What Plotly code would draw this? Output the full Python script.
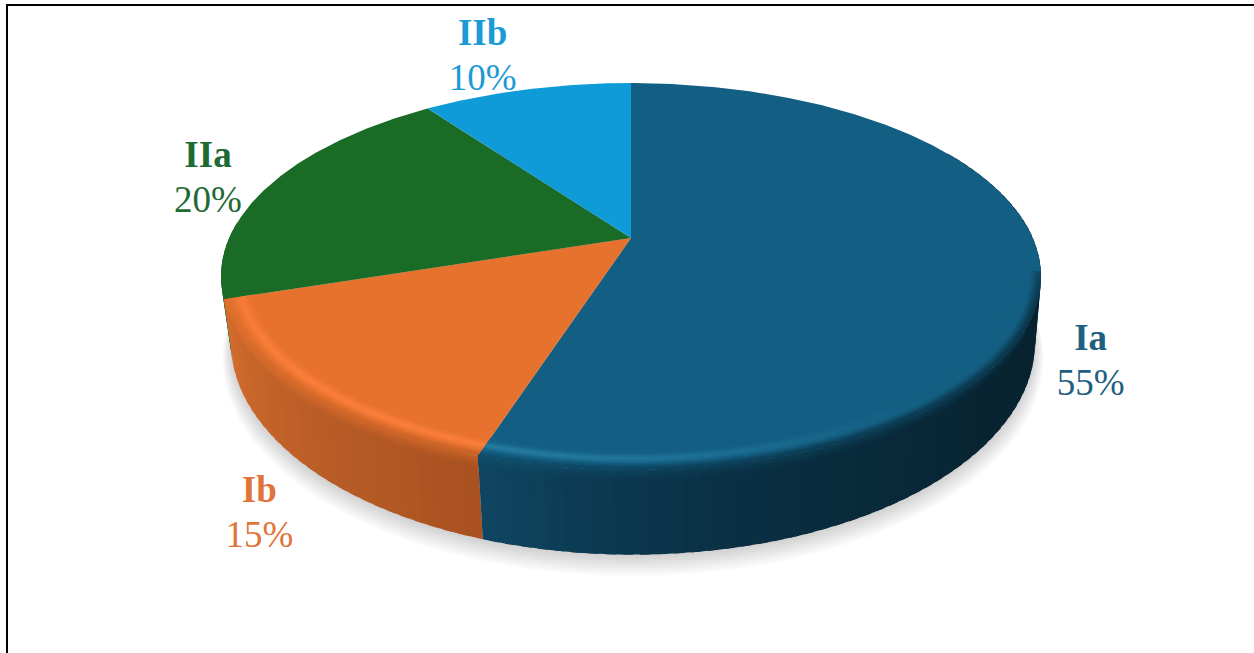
import math
import plotly.graph_objects as go

# ---- data -----------------------------------------------------------------
categories = ["Ia", "Ib", "IIa", "IIb"]
shares = [55, 15, 20, 10]

# ---- styles ---------------------------------------------------------------
top_colors = [(19, 95, 131), (231, 114, 46), (26, 107, 37), (15, 155, 215)]
label_colors = ["#1f5f82", "#e0743a", "#1d6a33", "#1b9ad6"]
highlight_colors = [(36, 122, 158), (250, 126, 58), None, None]
# wall colour stops: (clockwise angle from 12 o'clock, rgb)
wall_stops = [
    [(60, (7, 34, 46)), (100, (7, 34, 46)), (130, (8, 36, 50)), (150, (9, 42, 58)),
     (170, (10, 48, 68)), (185, (12, 58, 82)), (198, (15, 70, 98))],
    [(198, (168, 82, 32)), (220, (184, 92, 38)), (240, (200, 102, 42)), (252, (214, 110, 46))],
    [(252, (22, 98, 34)), (324, (22, 98, 34))],
]
label_offsets = [(50, 95), (41, 124), (63, -4), (44, -31)]
LABEL_GAP = 22.5

# ---- projection of the tilted disc ----------------------------------------
CX, CY, TOP_A, TOP_B = 631.0, 238.0, 185.8, 401.8
BOT_CX, BOT_CY, BOT_A, BOT_B = 633.0, 300.0, 204.0, 394.0
K = 0.199


def proj(t, r=1.0, z=0.0):
    a = math.radians(t)
    X, Y = r * math.sin(a), r * math.cos(a)
    s = 1 / (1 + K * Y)
    x0, y0 = CX + TOP_B * X * s, CY - TOP_A * Y * s
    x1, y1 = BOT_CX + BOT_B * X * s, BOT_CY - BOT_A * Y * s
    return x0 + (x1 - x0) * z, y0 + (y1 - y0) * z


def mix(a, b, f):
    return tuple(a[i] + (b[i] - a[i]) * f for i in range(3))


def smooth(e0, e1, v):
    u = max(0.0, min(1.0, (v - e0) / (e1 - e0)))
    return u * u * (3 - 2 * u)


def rgb(c):
    return "rgb(%d,%d,%d)" % tuple(round(v) for v in c)


def wall_color(i, t):
    stops = wall_stops[i]
    if t <= stops[0][0]:
        return stops[0][1]
    for (t0, c0), (t1, c1) in zip(stops, stops[1:]):
        if t <= t1:
            return mix(c0, c1, (t - t0) / (t1 - t0))
    return stops[-1][1]


fig = go.Figure()


def poly(pts, color):
    xs = [p[0] for p in pts] + [pts[0][0]]
    ys = [p[1] for p in pts] + [pts[0][1]]
    fig.add_trace(go.Scatter(
        x=xs, y=ys, mode="lines", fill="toself", fillcolor=color,
        line=dict(width=0), hoverinfo="skip", showlegend=False))


# slice boundaries from the values
total = sum(shares)
edges = [0.0]
for v in shares:
    edges.append(edges[-1] + 360.0 * v / total)

# soft shadow below the disc
for n in range(9):
    grow = 1.0 + 0.0025 * (8 - n)
    dy = 2 + 1.6 * (8 - n)
    pts = [(lambda p: (p[0], p[1] + dy))(proj(t, grow, 1.0)) for t in range(0, 360, 3)]
    fig.add_trace(go.Scatter(
        x=[p[0] for p in pts] + [pts[0][0]], y=[p[1] for p in pts] + [pts[0][1]],
        mode="lines", fill="toself", fillcolor="rgba(90,90,90,0.028)",
        line=dict(width=0), hoverinfo="skip", showlegend=False))

EDGE_AMT = {0: 0.7, 1: 0.55}
STEP = 2.0
OVER = 1.2


def edge_amount(i, t):
    return EDGE_AMT[i] * smooth(84, 112, t) if i == 0 else EDGE_AMT[i]


# side walls (green first so orange and blue overlap it)
wall_spans = {2: (edges[2], 275.0), 1: (edges[1], edges[2]), 0: (60.0, edges[1])}
ZS = [0.0, 0.02, 0.04, 0.06, 0.08, 0.10, 0.13, 1.0]
for i in (2, 1, 0):
    t0, t1 = wall_spans[i]
    n = max(1, int(round((t1 - t0) / STEP)))
    for j in range(n):
        a, b = t0 + (t1 - t0) * j / n, t0 + (t1 - t0) * (j + 1) / n
        b2 = min(t1, b + OVER)
        m = (a + b) / 2
        wall = wall_color(i, m)
        poly([proj(a), proj(b2), proj(b2, 1, 1), proj(a, 1, 1)], rgb(wall))
for i in (1, 0):
    t0, t1 = wall_spans[i]
    t0 = max(t0, 84.0)
    n = max(1, int(round((t1 - t0) / STEP)))
    for j in range(n):
        a, b = t0 + (t1 - t0) * j / n, t0 + (t1 - t0) * (j + 1) / n
        b2 = min(t1, b + OVER)
        m = (a + b) / 2
        wall = wall_color(i, m)
        for z0, z1 in zip(ZS[:-2], ZS[1:-1]):
            f = 1 - (z0 + z1) / 2 / 0.13
            c = mix(wall, top_colors[i], (1 - EDGE_AMT[i]) * f)
            poly([proj(a, 1, z0), proj(b2, 1, z0), proj(b2, 1, z1 + 0.004), proj(a, 1, z1 + 0.004)], rgb(c))

# slice tops
for i in range(len(shares)):
    t0, t1 = edges[i], edges[i + 1]
    n = int(t1 - t0) * 2
    pts = [(CX, CY)] + [proj(t0 + (t1 - t0) * j / n) for j in range(n + 1)]
    poly(pts, rgb(top_colors[i]))

# rim: highlight band plus blend into the wall
RS = [0.93, 0.94, 0.948, 0.955, 0.962, 0.969, 0.976, 0.982, 0.988, 0.994, 1.0]
bevel = {1: (edges[1], edges[2]), 0: (100.0, edges[1])}


def hl_strength(i, t):
    return smooth(135, 197, t) if i == 0 else 1.0 - 0.2 * smooth(235, 252, t)


for i, (t0, t1) in bevel.items():
    n = int(round((t1 - t0) / STEP))
    for j in range(n):
        a, b = t0 + (t1 - t0) * j / n, t0 + (t1 - t0) * (j + 1) / n
        b2 = min(t1, b + OVER)
        m = (a + b) / 2
        wall = wall_color(i, m)
        for r0, r1 in zip(RS, RS[1:]):
            rm = (r0 + r1) / 2
            bump = math.exp(-((rm - 0.96) / 0.013) ** 2) * hl_strength(i, m)
            c = mix(top_colors[i], highlight_colors[i], bump)
            c = mix(c, wall, edge_amount(i, m) * smooth(0.97, 1.0, rm))
            poly([proj(a, r0), proj(b2, r0), proj(b2, min(1.0, r1 + 0.003)), proj(a, min(1.0, r1 + 0.003))], rgb(c))

# labels
for i, name in enumerate(categories):
    mid = (edges[i] + edges[i + 1]) / 2
    px, py = proj(mid)
    dx, dy = label_offsets[i]
    sgn = 1 if mid < 180 else -1
    fig.add_trace(go.Scatter(
        x=[px + sgn * dx, px + sgn * dx], y=[py + dy - LABEL_GAP, py + dy + LABEL_GAP], mode="text",
        text=["<b>%s</b>" % name, "%d%%" % shares[i]],
        textposition="middle center",
        textfont=dict(family="Liberation Serif", size=37, color=label_colors[i]),
        hoverinfo="skip", showlegend=False))

fig.update_layout(
    width=1254, height=653, margin=dict(l=0, r=0, t=0, b=0),
    paper_bgcolor="white", plot_bgcolor="white", showlegend=False,
    xaxis=dict(range=[0, 1254], visible=False, fixedrange=True),
    yaxis=dict(range=[653, 0], visible=False, fixedrange=True),
    shapes=[
        dict(type="line", xref="paper", yref="paper", x0=6 / 1254, x1=1, y0=1 - 5 / 653, y1=1 - 5 / 653,
             line=dict(color="black", width=2)),
        dict(type="line", xref="paper", yref="paper", x0=7 / 1254, x1=7 / 1254, y0=0, y1=1 - 4 / 653,
             line=dict(color="black", width=2)),
    ],
)

fig.write_html("out.html", post_script="document.body.style.margin='0';document.body.style.overflow='hidden';",
               config={"displayModeBar": False})
